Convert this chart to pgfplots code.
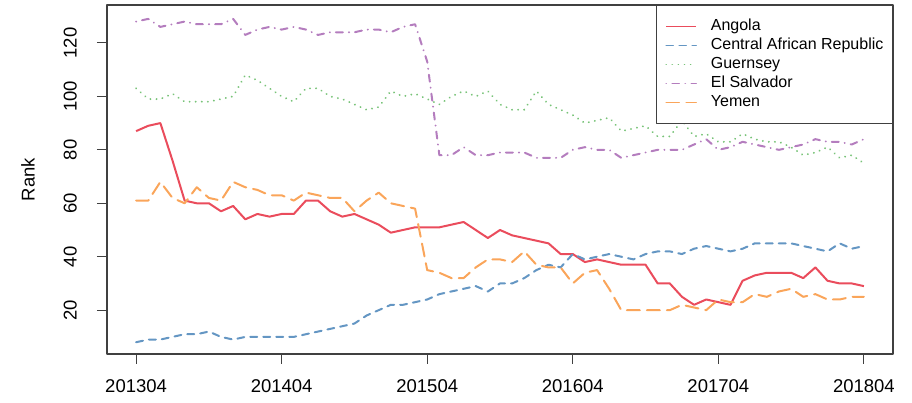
\documentclass[border=0pt]{standalone}
\usepackage{fontspec}
\setmainfont{Liberation Sans}
\usepackage{graphicx}
\usepackage{pgfplots}
\pgfplotsset{compat=1.18}
\usepackage{pgfplotstable}

\definecolor{cang}{RGB}{234,76,92}
\definecolor{ccar}{RGB}{100,150,195}
\definecolor{cgue}{RGB}{120,195,120}
\definecolor{cels}{RGB}{180,125,190}
\definecolor{cyem}{RGB}{250,165,90}

\pgfplotstableread{
i ang car gue els yem
0 87 8 103 128 61
1 89 9 99 129 61
2 90 9 99 126 68
3 76 10 101 127 62
4 61 11 98 128 60
5 60 11 98 127 66
6 60 12 98 127 62
7 57 10 99 127 61
8 59 9 100 129 68
9 54 10 108 123 66
10 56 10 106 125 65
11 55 10 103 126 63
12 56 10 100 125 63
13 56 10 98 126 61
14 61 11 103 125 64
15 61 12 103 123 63
16 57 13 100 124 62
17 55 14 99 124 62
18 56 15 97 124 57
19 54 18 95 125 61
20 52 20 96 125 64
21 49 22 102 124 60
22 50 22 100 126 59
23 51 23 101 127 58
24 51 24 99 113 35
25 51 26 97 78 34
26 52 27 100 78 32
27 53 28 102 81 32
28 50 29 100 78 36
29 47 27 102 78 39
30 50 30 97 79 39
31 48 30 95 79 38
32 47 32 95 79 42
33 46 35 102 77 37
34 45 37 97 77 36
35 41 36 95 77 36
36 41 41 93 80 30
37 38 39 90 81 34
38 39 40 91 80 35
39 38 41 92 80 28
40 37 40 87 77 20
41 37 39 88 78 20
42 37 41 89 79 20
43 30 42 85 80 20
44 30 42 85 80 20
45 25 41 91 80 22
46 22 43 85 82 21
47 24 44 86 84 20
48 23 43 83 80 24
49 22 42 83 81 23
50 31 43 86 83 23
51 33 45 84 82 26
52 34 45 83 81 25
53 34 45 83 80 27
54 34 45 81 81 28
55 32 44 78 82 25
56 36 43 79 84 26
57 31 42 81 83 24
58 30 45 77 83 24
59 30 43 78 82 25
60 29 44 75 84 25
}\data

\begin{document}
\begin{tikzpicture}
\useasboundingbox (-107pt,-49pt) rectangle (805pt,354pt);
\begin{axis}[
  at={(0pt,0pt)}, anchor=south west,
  scale only axis, width=786pt, height=349pt,
  xmin=-2.4, xmax=62.4, ymin=3.6, ymax=134.2,
  xtick={0,12,24,36,48,60},
  xticklabels={201304,201404,201504,201604,201704,201804},
  ytick={20,40,60,80,100,120},
  yticklabel={\rotatebox{90}{\pgfmathprintnumber[assume math mode=true]{\tick}}},
  tick pos=left, tick align=outside, major tick length=10pt,
  every tick/.style={black!75, line width=1pt},
  axis line style={black!75, line width=1.2pt},
  ticklabel style={font=\fontsize{18.5}{20}\selectfont, inner sep=0pt},
  xticklabel style={anchor=north, yshift=-15pt},
  yticklabel style={anchor=east, xshift=-20pt},
  ylabel={Rank},
  ylabel style={font=\fontsize{18.5}{20}\selectfont, at={(axis description cs:-0.0916,0.5)}, anchor=south, inner sep=0pt},
  legend cell align=left,
  legend style={at={(1,1)}, anchor=north east, draw=black!75, line width=1.2pt, fill=white,
    font=\fontsize{16}{19}\selectfont, inner xsep=9pt, inner ysep=13pt, row sep=3pt,
    nodes={inner sep=0pt, text height=12pt, text depth=4pt},
    /tikz/every odd column/.append style={column sep=14pt}},
  legend image code/.code={\draw[#1, line width=1.5pt] (0pt,0pt) -- (30pt,0pt);},
  line join=round,
]
\addplot[cang, line width=2pt] table[x=i, y=ang] {\data};
\addlegendentry{Angola}
\addplot[ccar, line width=2pt, line cap=round, dash pattern=on 7pt off 6pt] table[x=i, y=car] {\data};
\addlegendentry{Central African Republic}
\addplot[cgue, line width=2pt, line cap=round, dash pattern=on 0.1pt off 6pt] table[x=i, y=gue] {\data};
\addlegendentry{Guernsey}
\addplot[cels, line width=2pt, line cap=round, dash pattern=on 0.1pt off 6pt on 7pt off 6pt] table[x=i, y=els] {\data};
\addlegendentry{El Salvador}
\addplot[cyem, line width=2pt, line cap=round, dash pattern=on 13pt off 7pt] table[x=i, y=yem] {\data};
\addlegendentry{Yemen}
\end{axis}
\end{tikzpicture}
\end{document}
